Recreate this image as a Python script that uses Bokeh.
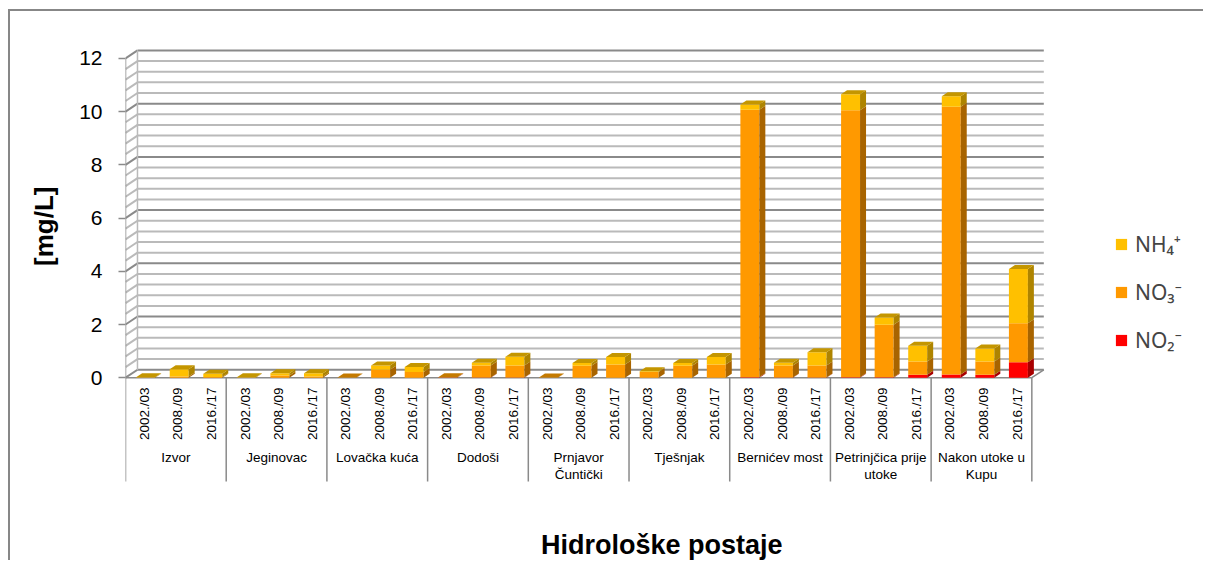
import numpy as np
from bokeh.plotting import figure
from bokeh.models import Range1d, FixedTicker, Legend, LegendItem, ColumnDataSource, Title
from bokeh.core.properties import value
from bokeh.embed import file_html
from bokeh.resources import INLINE

# ---------------- data ----------------
stations = ["Izvor", "Jeginovac", "Lovačka kuća", "Dodoši", "Prnjavor\nČuntički",
            "Tješnjak", "Bernićev most", "Petrinjčica prije\nutoke", "Nakon utoke u\nKupu"]
years = ["2002./03", "2008./09", "2016./17"]

no2 = [0.00, 0.00, 0.00,  0.00, 0.00, 0.00,  0.00, 0.00, 0.00,
       0.01, 0.01, 0.01,  0.00, 0.00, 0.00,  0.00, 0.00, 0.00,
       0.02, 0.01, 0.01,  0.02, 0.02, 0.11,  0.12, 0.11, 0.58]
no3 = [0.01, 0.05, 0.03,  0.01, 0.08, 0.05,  0.01, 0.30, 0.22,
       0.01, 0.45, 0.45,  0.01, 0.45, 0.50,  0.22, 0.45, 0.50,
       10.05, 0.45, 0.45, 10.03, 1.97, 0.50, 10.06, 0.50, 1.47]
nh4 = [0.01, 0.27, 0.12,  0.01, 0.09, 0.12,  0.00, 0.16, 0.18,
       0.00, 0.10, 0.33,  0.00, 0.10, 0.28,  0.02, 0.10, 0.28,
       0.20, 0.10, 0.50,  0.60, 0.27, 0.59,  0.40, 0.49, 2.04]

series_names = ["NO₂⁻", "NO₃⁻", "NH₄⁺"]
y_ticks = [0, 2, 4, 6, 8, 10, 12]
y_top_value = 12
minor_step = 0.4

# ---------------- style / layout ----------------
FRONT = ["#FF0000", "#FF9900", "#FFC000"]
SIDE = ["#A80000", "#A86400", "#AE8400"]
TOP = ["#C40000", "#C47A00", "#C49600"]
GRID_MINOR = "#BABABA"
GRID_MAJOR = "#8A8A8A"
EDGE = "#8A8A8A"
FONT = "Liberation Sans"

W, H = 1195, 551
ML, MT = 113, 28
PX_X, PX_Y = 33.63, 26.67           # pixels per data unit
ORIGIN_Y = 11                       # content top in page px
frame_bottom_page = 486
MB = H - (frame_bottom_page - ORIGIN_Y)
frame_w = W - ML
frame_h = H - MT - MB
y_hi = (378 - (ORIGIN_Y + MT)) / PX_Y
y_lo = y_hi - frame_h / PX_Y
x_hi = frame_w / PX_X

DX, DY = 12 / PX_X, 8 / PX_Y        # wall depth
BDX, BDY = 6 / PX_X, 4 / PX_Y       # bar depth
BW = 0.565
SHIFT = 0.1

n = len(years) * len(stations)
xc = np.arange(n) + 0.5 + SHIFT

p = figure(width=W, height=H, output_backend="svg", toolbar_location=None,
           x_range=Range1d(0, x_hi), y_range=Range1d(y_lo, y_hi),
           min_border_left=ML, min_border_right=0, min_border_top=MT, min_border_bottom=MB)
p.styles = {"border-top": "2px solid #878787", "border-left": "2px solid #878787",
            "margin-top": "9px", "margin-left": "8px"}
p.outline_line_color = None
p.xgrid.visible = False
p.ygrid.visible = False
p.background_fill_color = "white"
p.border_fill_color = "white"

# y axis
ya = p.yaxis[0]
ya.ticker = FixedTicker(ticks=y_ticks)
ya.axis_line_color = None
ya.major_tick_out = 7
ya.major_tick_in = 0
ya.major_tick_line_color = EDGE
ya.major_tick_line_width = 1.5
ya.minor_tick_line_color = None
ya.major_label_standoff = 16
ya.major_label_text_font = FONT
ya.major_label_text_font_size = "21px"
ya.major_label_text_color = "black"

# y title
p.add_layout(Title(text="[mg/L]", align="right", vertical_align="middle", offset=147,
                   standoff=34, text_font=FONT, text_font_style="bold",
                   text_font_size="26px", text_color="black"), "left")

# x axis: only the title
xa = p.xaxis[0]
xa.ticker = FixedTicker(ticks=[])
xa.axis_line_color = None
xa.major_tick_line_color = None
xa.minor_tick_line_color = None
xa.major_label_text_font_size = "0px"
xa.axis_label = "Hidrološke  postaje"
xa.axis_label_text_font = FONT
xa.axis_label_text_font_style = "bold"
xa.axis_label_text_font_size = "27px"
xa.axis_label_text_color = "black"
xa.axis_label_standoff = 44

# ---------------- walls ----------------
n_groups = len(stations)
x_end = float(n)
grid_vals = np.round(np.arange(0, y_top_value + 1e-9, minor_step), 6)
is_major = [abs(v / 2 - round(v / 2)) < 1e-6 for v in grid_vals]

p.patch([0, x_end, x_end + DX, DX], [0, 0, DY, DY], fill_color="white", line_color=None)

for v, mj in zip(grid_vals, is_major):
    col = GRID_MAJOR if mj else GRID_MINOR
    p.segment(x0=[DX], y0=[v + DY], x1=[x_end + DX], y1=[v + DY], line_color=col, line_width=2)
    p.segment(x0=[0], y0=[v], x1=[DX], y1=[v + DY], line_color=col, line_width=2)

p.segment(x0=[DX], y0=[DY], x1=[DX], y1=[y_top_value + DY], line_color=GRID_MINOR, line_width=1.5)
p.segment(x0=[0], y0=[0], x1=[0], y1=[y_top_value], line_color=EDGE, line_width=1.5)
p.segment(x0=[0, x_end], y0=[0, 0], x1=[x_end, x_end + DX], y1=[0, DY], line_color=EDGE, line_width=1.5)

sep_x = np.arange(0, n + 1, len(years))
sep_bottom = (378 - 482) / PX_Y
p.segment(x0=sep_x, y0=np.zeros(len(sep_x)), x1=sep_x, y1=np.full(len(sep_x), sep_bottom),
          line_color=EDGE, line_width=1.5)

# ---------------- bars ----------------
vals = [np.array(no2), np.array(no3), np.array(nh4)]
bottoms = []
acc = np.zeros(n)
for s in vals:
    bottoms.append(acc.copy())
    acc = acc + s
totals = acc

front_renderers = []
for k in range(3):
    src = ColumnDataSource(dict(x=xc, top=bottoms[k] + vals[k], bottom=bottoms[k]))
    r = p.vbar(x="x", width=BW, top="top", bottom="bottom", source=src,
               fill_color=FRONT[k], line_color=None)
    front_renderers.append(r)

side_xs, side_ys, side_c = [], [], []
for k in range(3):
    for i in range(n):
        b0, b1 = bottoms[k][i], bottoms[k][i] + vals[k][i]
        if b1 - b0 <= 0:
            continue
        xr = xc[i] + BW / 2
        side_xs.append([xr, xr + BDX, xr + BDX, xr])
        side_ys.append([b0, b0 + BDY, b1 + BDY, b1])
        side_c.append(SIDE[k])
p.patches(xs=side_xs, ys=side_ys, fill_color=side_c, line_color=None)

top_xs, top_ys, top_c = [], [], []
for i in range(n):
    t = totals[i]
    kt = max([k for k in range(3) if vals[k][i] > 0] or [1])
    xl, xr = xc[i] - BW / 2, xc[i] + BW / 2
    top_xs.append([xl, xr, xr + BDX, xl + BDX])
    top_ys.append([t, t, t + BDY, t + BDY])
    top_c.append(TOP[kt])
p.patches(xs=top_xs, ys=top_ys, fill_color=top_c, line_color=None)

# ---------------- category labels ----------------
year_x = np.arange(n) + 0.56
year_txt = [years[i % len(years)] for i in range(n)]
p.text(x=year_x, y=np.full(n, (378 - 414) / PX_Y), text=year_txt, angle=np.pi / 2,
       text_align="center", text_baseline="middle", text_font=value(FONT),
       text_font_size="13.5px", text_color="black")

grp_x = np.arange(n_groups) * len(years) + len(years) / 2
line1 = [s.split("\n")[0] for s in stations]
line2 = [s.split("\n")[1] if "\n" in s else "" for s in stations]
p.text(x=grp_x, y=np.full(n_groups, (378 - 458) / PX_Y), text=line1,
       text_align="center", text_baseline="middle", text_font=value(FONT),
       text_font_size="13.5px", text_color="black")
p.text(x=grp_x, y=np.full(n_groups, (378 - 475) / PX_Y), text=line2,
       text_align="center", text_baseline="middle", text_font=value(FONT),
       text_font_size="13.5px", text_color="black")

# legend
items = [LegendItem(label=series_names[k], renderers=[front_renderers[k]]) for k in [2, 1, 0]]
leg = Legend(items=items, location=(989, 131), padding=0, margin=0, spacing=20,
             glyph_width=14, glyph_height=14, label_height=20, label_standoff=7,
             label_text_font="Noto Sans", label_text_font_size="21px",
             border_line_color=None, background_fill_alpha=0)
p.add_layout(leg)

open("out.html", "w").write(file_html(p, INLINE))
